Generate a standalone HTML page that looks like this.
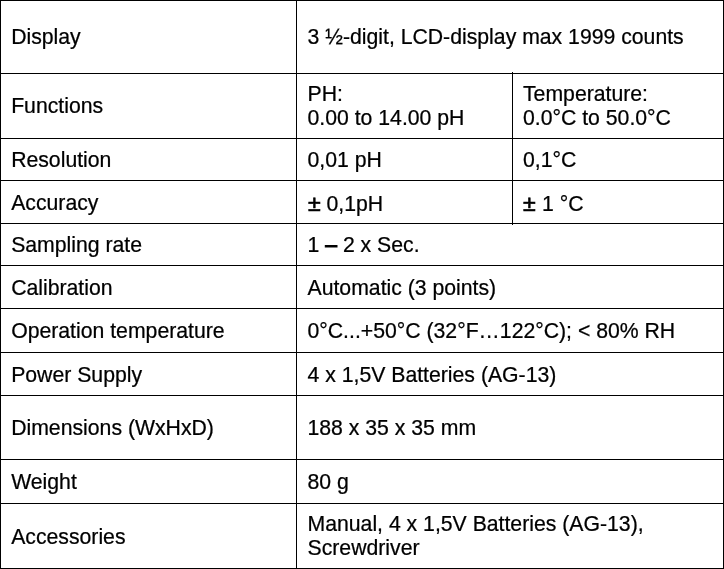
<!DOCTYPE html>
<html><head><meta charset="utf-8"><title>Specifications</title>
<style>
html,body{margin:0;padding:0;background:#fff;}
#w{position:relative;width:724px;height:569px;overflow:hidden;background:#fff;font-family:"Liberation Sans",Arial,sans-serif;font-size:21.22px;color:#000;}
.l{position:absolute;background:#000;}
.t{position:absolute;white-space:nowrap;line-height:24px;height:24px;-webkit-text-stroke:0.24px #000;}
.d{-webkit-text-stroke:0.9px #000;}
.pm{display:inline-block;width:13.1px;position:relative;left:0.2px;top:0.7px;transform:scaleX(1.09);transform-origin:0 50%;-webkit-text-stroke:0.6px #000;}
</style></head><body><div id="w">
<div class="l" style="left:0;top:0px;width:724px;height:1px"></div>
<div class="l" style="left:0;top:73px;width:724px;height:1px"></div>
<div class="l" style="left:0;top:138px;width:724px;height:1px"></div>
<div class="l" style="left:0;top:180px;width:724px;height:1px"></div>
<div class="l" style="left:0;top:223px;width:724px;height:1px"></div>
<div class="l" style="left:0;top:265px;width:724px;height:1px"></div>
<div class="l" style="left:0;top:308px;width:724px;height:1px"></div>
<div class="l" style="left:0;top:352px;width:724px;height:1px"></div>
<div class="l" style="left:0;top:395px;width:724px;height:1px"></div>
<div class="l" style="left:0;top:459px;width:724px;height:1px"></div>
<div class="l" style="left:0;top:503px;width:724px;height:1px"></div>
<div class="l" style="left:0;top:568px;width:724px;height:1px"></div>
<div class="l" style="left:0px;top:0;width:1px;height:569px"></div>
<div class="l" style="left:296px;top:0;width:1px;height:569px"></div>
<div class="l" style="left:723px;top:0;width:1px;height:569px"></div>
<div class="l" style="left:512px;top:72px;width:1px;height:153px"></div>
<div class="t" style="left:11.15px;top:24.65px">Display</div>
<div class="t" style="left:307.5px;top:24.65px">3 ½-digit, LCD-display max 1999 counts</div>
<div class="t" style="left:11.15px;top:93.65px">Functions</div>
<div class="t" style="left:307.5px;top:81.65px">PH:</div>
<div class="t" style="left:307.5px;top:105.65px">0.00 to 14.00 pH</div>
<div class="t" style="left:523px;top:81.65px">Temperature:</div>
<div class="t" style="left:523px;top:105.65px">0.0°C to 50.0°C</div>
<div class="t" style="left:11.15px;top:147.65px">Resolution</div>
<div class="t" style="left:307.5px;top:147.65px">0,01 pH</div>
<div class="t" style="left:523px;top:147.65px">0,1°C</div>
<div class="t" style="left:11.15px;top:190.65px">Accuracy</div>
<div class="t" style="left:307.5px;top:191.65px"><span class="pm">±</span> 0,1pH</div>
<div class="t" style="left:523px;top:191.65px"><span class="pm">±</span> 1 °C</div>
<div class="t" style="left:11.15px;top:232.65px">Sampling rate</div>
<div class="t" style="left:307.5px;top:232.65px">1 <span class="d">–</span> 2 x Sec.</div>
<div class="t" style="left:11.15px;top:275.65px">Calibration</div>
<div class="t" style="left:307.5px;top:275.65px">Automatic (3 points)</div>
<div class="t" style="left:11.15px;top:318.65px">Operation temperature</div>
<div class="t" style="left:307.5px;top:318.65px">0°C...+50°C (32°F…122°C); &lt; 80% RH</div>
<div class="t" style="left:11.15px;top:362.65px">Power Supply</div>
<div class="t" style="left:307.5px;top:362.65px">4 x 1,5V Batteries (AG-13)</div>
<div class="t" style="left:11.15px;top:415.65px">Dimensions (WxHxD)</div>
<div class="t" style="left:307.5px;top:415.65px">188 x 35 x 35 mm</div>
<div class="t" style="left:11.15px;top:469.65px">Weight</div>
<div class="t" style="left:307.5px;top:469.65px">80 g</div>
<div class="t" style="left:11.15px;top:524.65px">Accessories</div>
<div class="t" style="left:307.5px;top:511.65px">Manual, 4 x 1,5V Batteries (AG-13),</div>
<div class="t" style="left:307.5px;top:535.65px">Screwdriver</div>
</div></body></html>
